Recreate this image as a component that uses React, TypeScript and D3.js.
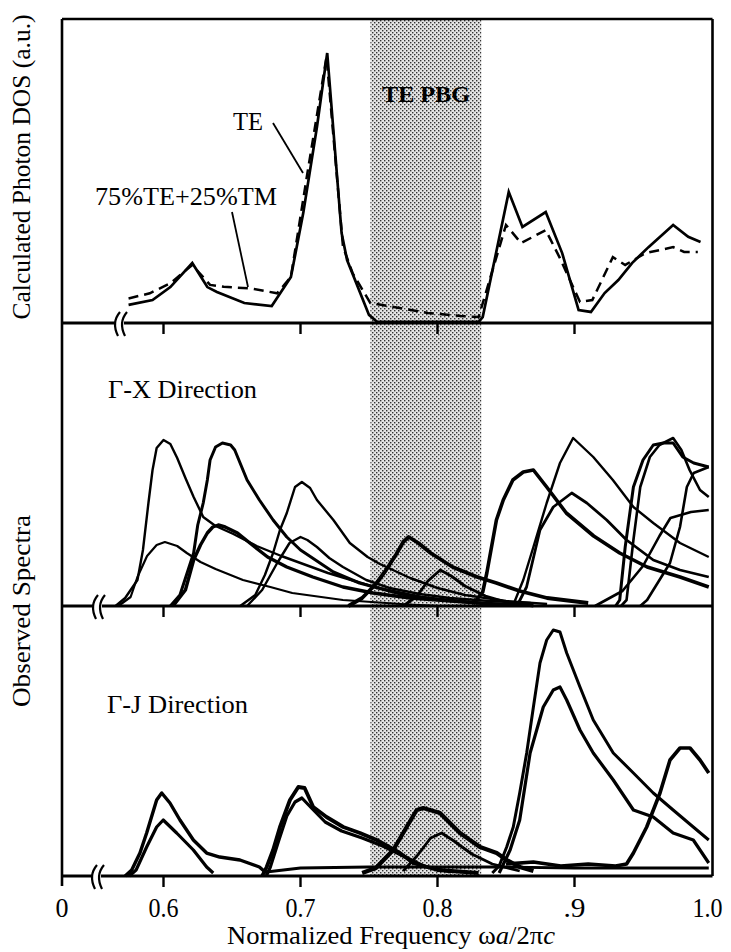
import React from 'react';
import * as d3 from 'd3';

// ---------- axis / labels ----------
const tickValues = [0.6, 0.7, 0.8, 0.9];
const tickLabels = ['0.6', '0.7', '0.8', '.9', '1.0'];
const gapBand = [0.751, 0.832];

// ---------- top panel: calculated photon DOS ----------
const teFreq = [0.5745, 0.592, 0.605, 0.621, 0.632, 0.639, 0.659, 0.679, 0.693, 0.702, 0.712, 0.7195, 0.730, 0.734, 0.750, 0.756, 0.80, 0.830, 0.833, 0.852, 0.862, 0.879, 0.891, 0.903, 0.912, 0.922, 0.932, 0.942, 0.954, 0.972, 0.983, 0.992];
const teDos = [0.67, 0.85, 1.33, 2.22, 1.33, 1.15, 0.74, 0.63, 1.70, 4.07, 7.26, 10.0, 3.33, 2.33, 0.30, 0.04, 0.04, 0.04, 0.22, 4.85, 3.56, 4.11, 2.59, 0.48, 0.41, 1.11, 1.59, 2.22, 2.81, 3.63, 3.19, 3.0];
const mixFreq = [0.5745, 0.590, 0.605, 0.621, 0.634, 0.644, 0.664, 0.683, 0.693, 0.705, 0.719, 0.731, 0.738, 0.751, 0.768, 0.793, 0.817, 0.830, 0.850, 0.861, 0.879, 0.889, 0.904, 0.913, 0.928, 0.937, 0.952, 0.972, 0.980, 0.990];
const mixDos = [0.91, 1.10, 1.47, 2.15, 1.41, 1.34, 1.28, 1.10, 1.71, 5.54, 9.86, 2.83, 1.85, 0.74, 0.59, 0.37, 0.26, 0.22, 3.63, 2.96, 3.44, 2.44, 0.78, 0.85, 2.44, 2.15, 2.59, 2.81, 2.63, 2.63];

// ---------- middle panel: Γ-X observed spectra [freq, intensity] ----------
const gxA = [[0.565, 0], [0.572, 8], [0.581, 26], [0.585, 56], [0.589, 103], [0.592, 136], [0.595, 158], [0.600, 166], [0.605, 162], [0.610, 148], [0.616, 128], [0.622, 109], [0.629, 89], [0.638, 80], [0.651, 72], [0.668, 60], [0.686, 50], [0.720, 33], [0.754, 19], [0.788, 9], [0.83, 3], [0.87, 1]];
const gxB = [[0.567, 0], [0.576, 9], [0.581, 29], [0.588, 50], [0.595, 61], [0.601, 64], [0.610, 60], [0.617, 53], [0.627, 44], [0.638, 37], [0.658, 26], [0.678, 19], [0.694, 13], [0.731, 6], [0.773, 2], [0.80, 0]];
const gxC = [[0.605, 0], [0.612, 11], [0.622, 53], [0.625, 81], [0.629, 103], [0.632, 126], [0.634, 146], [0.638, 159], [0.643, 163], [0.649, 161], [0.652, 156], [0.661, 126], [0.670, 106], [0.680, 86], [0.690, 69], [0.700, 56], [0.724, 34], [0.743, 23], [0.773, 12], [0.802, 6], [0.831, 3], [0.86, 1]];
const gxD = [[0.607, 0], [0.616, 16], [0.622, 46], [0.627, 61], [0.632, 73], [0.636, 79], [0.640, 81], [0.645, 79], [0.654, 73], [0.663, 63], [0.676, 49], [0.690, 39], [0.709, 29], [0.731, 19], [0.753, 13], [0.78, 8], [0.81, 5], [0.84, 2]];
const gxE = [[0.656, 0], [0.667, 11], [0.674, 31], [0.680, 53], [0.685, 76], [0.690, 93], [0.696, 119], [0.701, 124], [0.707, 118], [0.712, 106], [0.724, 86], [0.736, 63], [0.749, 49], [0.758, 42], [0.78, 28], [0.80, 18], [0.82, 11], [0.85, 5], [0.88, 2]];
const gxF = [[0.661, 0], [0.672, 16], [0.683, 43], [0.692, 63], [0.700, 69], [0.705, 66], [0.712, 59], [0.721, 48], [0.731, 39], [0.748, 26], [0.765, 18], [0.787, 12], [0.809, 8], [0.838, 5], [0.868, 3]];
const gxG = [[0.735, 0], [0.745, 8], [0.755, 22], [0.762, 35], [0.770, 52], [0.775, 64], [0.779, 69], [0.786, 63], [0.795, 53], [0.811, 39], [0.829, 29], [0.843, 23], [0.86, 15], [0.88, 8], [0.91, 3]];
const gxH = [[0.775, 0], [0.785, 10], [0.793, 25], [0.802, 36], [0.810, 30], [0.820, 20], [0.835, 10], [0.85, 4], [0.87, 0]];
const gxI = [[0.826, 2], [0.833, 14], [0.836, 33], [0.843, 86], [0.848, 106], [0.855, 126], [0.8626, 134], [0.870, 136], [0.8797, 119], [0.894, 93], [0.914, 70], [0.933, 53], [0.953, 39], [0.977, 29], [0.998, 19]];
const gxJ = [[0.855, 0], [0.8626, 26], [0.870, 59], [0.8797, 103], [0.8894, 143], [0.899, 168], [0.9137, 149], [0.928, 126], [0.943, 99], [0.9575, 83], [0.977, 63], [0.998, 49]];
const gxK = [[0.858, 0], [0.865, 19], [0.8748, 76], [0.8845, 99], [0.898, 113], [0.909, 103], [0.9235, 86], [0.938, 66], [0.9575, 46], [0.977, 36], [0.998, 29]];
const gxL = [[0.930, 0], [0.933, 6], [0.937, 59], [0.943, 119], [0.950, 146], [0.9575, 161], [0.9648, 163], [0.972, 163], [0.979, 149], [0.987, 143], [0.998, 139]];
const gxM = [[0.934, 0], [0.938, 6], [0.943, 66], [0.948, 119], [0.955, 149], [0.962, 161], [0.972, 168], [0.978, 156], [0.984, 136], [0.9916, 116], [0.998, 109]];
const gxN = [[0.915, 0], [0.935, 15], [0.950, 40], [0.962, 70], [0.970, 88], [0.985, 94], [0.998, 96]];
const gxO = [[0.948, 0], [0.953, 6], [0.9697, 43], [0.977, 79], [0.982, 119], [0.987, 133], [0.998, 139]];

// ---------- bottom panel: Γ-J observed spectra ----------
const gjP1 = [[0.572, 0], [0.5768, 6], [0.5828, 23], [0.5877, 43], [0.595, 76], [0.5987, 83], [0.6047, 73], [0.612, 56], [0.6218, 36], [0.6315, 23], [0.641, 19], [0.6558, 16], [0.670, 9], [0.675, 3]];
const gjP2 = [[0.575, 0], [0.580, 6], [0.5877, 29], [0.595, 49], [0.5998, 56], [0.6096, 43], [0.6218, 26], [0.6315, 9], [0.6363, 3]];
const gjQ1 = [[0.672, 0], [0.6753, 9], [0.680, 26], [0.685, 49], [0.6923, 76], [0.6984, 89], [0.703, 88], [0.7093, 69], [0.719, 59], [0.7312, 49], [0.7434, 43], [0.7556, 36], [0.7726, 23], [0.7823, 13], [0.80, 6], [0.83, 3]];
const gjQ2 = [[0.675, 0], [0.678, 9], [0.684, 35], [0.690, 60], [0.696, 74], [0.701, 78], [0.708, 68], [0.718, 54], [0.730, 45], [0.745, 38], [0.760, 30], [0.775, 20], [0.790, 10], [0.81, 4]];
const gjR = [[0.745, 3], [0.755, 8], [0.7677, 26], [0.7775, 49], [0.7848, 66], [0.7896, 68], [0.8018, 63], [0.8164, 43], [0.831, 29], [0.8432, 23], [0.8505, 16], [0.86, 9], [0.87, 5]];
const gjR2 = [[0.775, 5], [0.785, 20], [0.795, 38], [0.803, 43], [0.812, 35], [0.825, 22], [0.84, 12], [0.86, 5]];
const gjS1 = [[0.840, 3], [0.845, 10], [0.8505, 29], [0.8553, 49], [0.860, 83], [0.8651, 123], [0.870, 169], [0.8748, 213], [0.8797, 236], [0.8845, 246], [0.8894, 244], [0.8943, 223], [0.904, 189], [0.9137, 156], [0.9283, 123], [0.943, 103], [0.9575, 83], [0.972, 66], [0.9867, 49], [0.998, 36]];
const gjS2 = [[0.845, 3], [0.853, 26], [0.860, 56], [0.8676, 123], [0.8772, 169], [0.8845, 186], [0.8894, 189], [0.8943, 176], [0.904, 146], [0.9137, 123], [0.9283, 96], [0.943, 66], [0.9575, 59], [0.972, 43], [0.9867, 36], [0.998, 13]];
const gjT = [[0.850, 12], [0.870, 14], [0.890, 10], [0.910, 12], [0.930, 10], [0.938, 12], [0.943, 23], [0.9527, 49], [0.9624, 83], [0.9697, 116], [0.977, 128], [0.9843, 128], [0.9916, 116], [0.998, 103]];
const gjBase = [[0.675, 4], [0.70, 8], [0.75, 9], [0.80, 9], [0.85, 9], [0.90, 8], [0.95, 8], [0.998, 8]];

const gxSeries = [
  { d: gxA, w: 2.4 }, { d: gxB, w: 2.2 }, { d: gxC, w: 3 }, { d: gxD, w: 3.4 }, { d: gxE, w: 2.4 },
  { d: gxF, w: 2.4 }, { d: gxG, w: 3.8 }, { d: gxH, w: 2.8 }, { d: gxI, w: 3.6 }, { d: gxJ, w: 2.4 },
  { d: gxK, w: 2.8 }, { d: gxL, w: 3 }, { d: gxM, w: 2.6 }, { d: gxN, w: 2.6 }, { d: gxO, w: 2.6 },
];
const gjSeries = [
  { d: gjP1, w: 3.4 }, { d: gjP2, w: 3.2 }, { d: gjQ1, w: 3.8 }, { d: gjQ2, w: 3.2 }, { d: gjR, w: 4.2 },
  { d: gjR2, w: 2.8 }, { d: gjS1, w: 3 }, { d: gjS2, w: 3.2 }, { d: gjT, w: 3.6 }, { d: gjBase, w: 2.8 },
];

const SERIF = '"Liberation Serif", "DejaVu Serif", serif';

export default function App() {
  const W = 731, H = 952;
  const xL = 62, xR = 712.5, yTopFrame = 19;
  const axTop = 323, axMid = 606, axBot = 876;

  const x = d3.scaleLinear().domain([0.6, 1.0]).range([163.5, 711.5]);
  const yTop = d3.scaleLinear().domain([0, 10]).range([axTop, 53]);
  const yMid = d3.scaleLinear().domain([0, 283]).range([axMid, axTop]);
  const yBot = d3.scaleLinear().domain([0, 270]).range([axBot, axMid]);

  const topLine = d3.line<[number, number]>().x(d => x(d[0])).y(d => yTop(d[1])).curve(d3.curveLinear);
  const midLine = d3.line<number[]>().x(d => x(d[0])).y(d => yMid(d[1])).curve(d3.curveLinear);
  const botLine = d3.line<number[]>().x(d => x(d[0])).y(d => yBot(d[1])).curve(d3.curveLinear);

  const teData = teFreq.map((f, i) => [f, teDos[i]] as [number, number]);
  const mixData = mixFreq.map((f, i) => [f, mixDos[i]] as [number, number]);

  const breakMark = (cx: number, y0: number, key: string) => (
    <g key={key}>
      <rect x={cx - 1} y={y0 - 3} width={8} height={6} fill="#fff" />
      <path d={`M${cx + 3},${y0 - 11} C${cx - 3},${y0 - 4} ${cx - 3},${y0 + 5} ${cx + 1},${y0 + 13}`} fill="none" stroke="#000" strokeWidth={2.2} />
      <path d={`M${cx + 10},${y0 - 11} C${cx + 4},${y0 - 4} ${cx + 4},${y0 + 5} ${cx + 8},${y0 + 13}`} fill="none" stroke="#000" strokeWidth={2.2} />
    </g>
  );

  const axis = (y0: number, brk: number, key: string) => (
    <g key={key}>
      <line x1={xL} x2={brk} y1={y0} y2={y0} stroke="#000" strokeWidth={3} />
      <line x1={brk + 7} x2={xR} y1={y0} y2={y0} stroke="#000" strokeWidth={3} />
      {tickValues.map(t => (
        <line key={t} x1={x(t)} x2={x(t)} y1={y0} y2={y0 + 11} stroke="#000" strokeWidth={2.4} />
      ))}
      {breakMark(brk, y0, key + 'b')}
    </g>
  );

  return (
    <svg width={W} height={H} style={{ position: 'absolute', left: 0, top: 0, background: '#fff' }} fontFamily={SERIF}>
      <defs>
        <pattern id="halftone" width={4} height={4} patternUnits="userSpaceOnUse">
          <rect width={4} height={4} fill="#e4e4e4" />
          <rect x={0} y={0} width={1.4} height={1.4} fill="#333" />
          <rect x={2} y={2} width={1.4} height={1.4} fill="#333" />
        </pattern>
      </defs>
      <rect x={0} y={0} width={W} height={H} fill="#fff" />

      {/* photonic band gap */}
      <rect x={x(gapBand[0])} y={yTopFrame} width={x(gapBand[1]) - x(gapBand[0])} height={axBot - yTopFrame} fill="url(#halftone)" />

      {/* frame */}
      <line x1={xL} x2={xR} y1={yTopFrame} y2={yTopFrame} stroke="#000" strokeWidth={2.6} />
      <line x1={xL} x2={xL} y1={yTopFrame} y2={axBot + 10} stroke="#000" strokeWidth={2.6} />
      <line x1={xR} x2={xR} y1={yTopFrame} y2={axBot} stroke="#000" strokeWidth={2.6} />

      {/* top panel curves */}
      <path d={topLine(mixData) || ''} fill="none" stroke="#000" strokeWidth={2.5} strokeDasharray="10 6" />
      <path d={topLine(teData) || ''} fill="none" stroke="#000" strokeWidth={2.7} strokeLinejoin="miter" />

      {/* observed spectra */}
      {gxSeries.map((s, i) => (
        <path key={'gx' + i} d={midLine(s.d) || ''} fill="none" stroke="#000" strokeWidth={s.w} strokeLinejoin="round" />
      ))}
      {gjSeries.map((s, i) => (
        <path key={'gj' + i} d={botLine(s.d) || ''} fill="none" stroke="#000" strokeWidth={s.w} strokeLinejoin="round" />
      ))}

      {axis(axTop, 117, 'at')}
      {axis(axMid, 95, 'am')}
      {axis(axBot, 94, 'ab')}

      {/* tick labels */}
      <text x={xL} y={917} fontSize={28} textAnchor="middle" textLength={13} lengthAdjust="spacingAndGlyphs">0</text>
      {tickLabels.map((l, i) => (
        <text key={l} x={i < 4 ? x(tickValues[i]) : x(1.0) - 4} y={917} fontSize={28} textAnchor="middle"
          textLength={l.length === 2 ? 22 : 30} lengthAdjust="spacingAndGlyphs">{l}</text>
      ))}

      {/* axis titles */}
      <text x={391} y={944} fontSize={26} textAnchor="middle" textLength={328} lengthAdjust="spacingAndGlyphs">
        Normalized Frequency ω<tspan fontStyle="italic">a</tspan>/2π<tspan fontStyle="italic">c</tspan>
      </text>
      <text transform="translate(30,167) rotate(-90)" fontSize={25} textAnchor="middle" textLength={305} lengthAdjust="spacingAndGlyphs">Calculated Photon DOS (a.u.)</text>
      <text transform="translate(30,611) rotate(-90)" fontSize={25} textAnchor="middle" textLength={192} lengthAdjust="spacingAndGlyphs">Observed Spectra</text>

      {/* annotations */}
      <text x={382} y={102} fontSize={24} fontWeight="bold" textLength={88} lengthAdjust="spacingAndGlyphs">TE PBG</text>
      <text x={233} y={130} fontSize={25} textLength={30} lengthAdjust="spacingAndGlyphs">TE</text>
      <line x1={273} y1={123} x2={303} y2={173} stroke="#000" strokeWidth={1.8} />
      <text x={95} y={205} fontSize={25} textLength={182} lengthAdjust="spacingAndGlyphs">75%TE+25%TM</text>
      <line x1={232} y1={212} x2={248} y2={287} stroke="#000" strokeWidth={1.8} />
      <text x={108} y={398} fontSize={26} textLength={149} lengthAdjust="spacingAndGlyphs">Γ-X Direction</text>
      <text x={107} y={713} fontSize={26} textLength={141} lengthAdjust="spacingAndGlyphs">Γ-J Direction</text>
    </svg>
  );
}
